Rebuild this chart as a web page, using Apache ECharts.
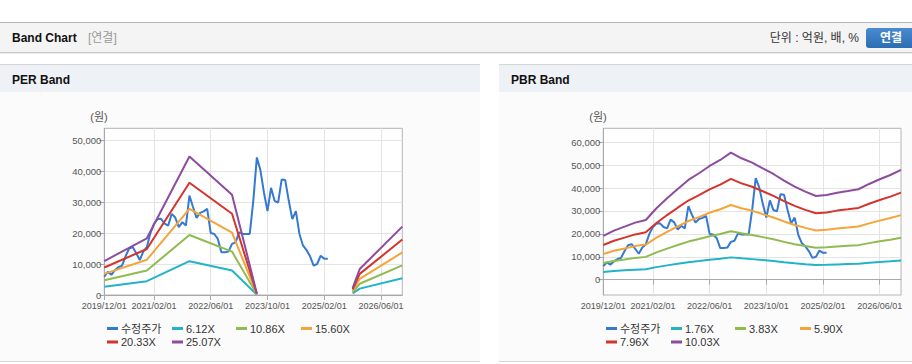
<!DOCTYPE html>
<html><head><meta charset="utf-8">
<script src="https://cdn.jsdelivr.net/npm/echarts@6/dist/echarts.min.js"></script>
<style>html,body{margin:0;padding:0;background:#fff}#c{width:912px;height:364px}</style>
</head><body><div id="c"></div>
<script>
// ---- categories (monthly, 2019/12 .. 2026/12) ----
const startYear = 2019, startMonth = 12, monthCount = 85;
const months = [];
for (let i = 0; i < monthCount; i++) {
  const t = (startMonth - 1) + i;
  const y = startYear + Math.floor(t / 12), m = (t % 12) + 1;
  months.push(y + '/' + String(m).padStart(2, '0') + '/01');
}
const xLabelDates = ['2019/12/01','2021/02/01','2022/06/01','2023/10/01','2025/02/01','2026/06/01'];
const perYTicks = [0, 10000, 20000, 30000, 40000, 50000];
const pbrYTicks = [0, 10000, 20000, 30000, 40000, 50000, 60000];

// ---- adjusted price (수정주가), monthly from 2019/12 ----
const price = [5900,7500,6500,8000,9000,9500,12500,15000,15500,13500,
  11300,14000,15500,20000,23000,24500,24600,23000,22400,26200,
  25000,21900,23500,22400,32100,28400,24900,26500,27000,27800,
  20000,19700,18100,13800,13800,14000,16500,17000,20200,19700,
  19700,19700,30400,44400,40300,33100,27100,34600,30400,29800,
  37300,37100,30400,24500,27100,19700,16000,14500,12500,9500,
  10000,12700,11700,11700];

// ---- PER band ----
const perBandDates = ['2019/12/01','2020/12/01','2021/12/01','2022/12/01','2023/07/01','2023/08/01','2025/10/01','2025/12/01','2026/12/01'];
const per612  = [2674, 4468, 10906, 7895, 122, '-', 539, 2050, 5386];
const per1086 = [4746, 7928, 19353, 14009, 217, '-', 956, 3638, 9557];
const per1560 = [6817, 11388, 27799, 20124, 312, '-', 1373, 5226, 13728];
const per2033 = [8884, 14841, 36228, 26226, 407, '-', 1789, 6811, 17890];
const per2507 = [10956, 18301, 44675, 32340, 501, '-', 2206, 8398, 22062];
const perNames = ['6.12X','10.86X','15.60X','20.33X','25.07X'];

// ---- PBR band (quarterly readings) ----
const pbrBandDates = ['2019/12/01','2020/03/01','2020/06/01','2020/09/01','2020/12/01','2021/03/01','2021/06/01','2021/09/01',
  '2021/12/01','2022/03/01','2022/06/01','2022/09/01','2022/12/01','2023/03/01','2023/06/01','2023/09/01',
  '2023/12/01','2024/03/01','2024/06/01','2024/09/01','2024/12/01','2025/03/01','2025/06/01','2025/09/01',
  '2025/12/01','2026/03/01','2026/06/01','2026/09/01','2026/12/01'];
const pbr176  = [3348,3756,4062,4370,4572,5475,6237,6948,7640,8152,8712,9171,9731,9300,8967,8536,
  8098,7586,7124,6743,6413,6493,6667,6795,6927,7332,7693,8022,8406];
const pbr383  = [7285,8173,8840,9510,9950,11915,13574,15121,16626,17741,18959,19958,21176,20238,19514,18576,
  17622,16507,15504,14673,13957,14129,14508,14788,15075,15956,16741,17457,18292];
const pbr590  = [11222,12591,13617,14650,15328,18355,20910,23293,25612,27329,29205,30745,32621,31176,30061,28615,
  27146,25429,23883,22603,21500,21765,22349,22780,23222,24579,25789,26892,28178];
const pbr796  = [15140,16987,18372,19765,20680,24764,28210,31426,34554,36871,39402,41480,44011,42061,40556,38606,
  36624,34308,32222,30495,29006,29364,30152,30734,31331,33161,34793,36282,38017];
const pbr1003 = [19077,21404,23149,24904,26058,31203,35546,39598,43540,46459,49649,52266,55456,52999,51103,48646,
  46148,43229,40601,38425,36549,37001,37994,38726,39478,41785,43841,45717,47903];
const pbrNames = ['1.76X','3.83X','5.90X','7.96X','10.03X'];

const priceName = '수정주가';
const colors = ['#3479d2','#22b3c8','#8fbb4f','#f5a437','#d4342b','#8d4c9d'];
const FONT = '"Liberation Sans", "Noto Sans CJK KR", sans-serif';

const pair = (dates, vals) => dates.map((d, i) => [d, vals[i]]);
const labelIdx = xLabelDates.map(d => months.indexOf(d));
const showIdx = (i) => labelIdx.indexOf(i) >= 0;

function xAxis(gi) {
  return {
    type: 'category', gridIndex: gi, data: months, boundaryGap: false,
    axisLine: { lineStyle: { color: '#a9a9a9' } },
    axisTick: { show: true, interval: showIdx, length: 5, lineStyle: { color: '#a9a9a9' } },
    axisLabel: { interval: showIdx, color: '#555', fontSize: 9, fontFamily: FONT, margin: 6 },
    splitLine: { show: true, interval: showIdx, lineStyle: { color: '#e4e4e4' } }
  };
}
function yAxis(gi, min, max, ticks) {
  return {
    type: 'value', gridIndex: gi, min: min, max: max,
    axisLine: { show: true, lineStyle: { color: '#a9a9a9' } },
    axisTick: { show: true, length: 5, customValues: ticks, lineStyle: { color: '#a9a9a9' } },
    axisLabel: { customValues: ticks, color: '#555', fontSize: 9.5, fontFamily: FONT, margin: 3,
      formatter: v => v.toLocaleString('en-US') },
    splitLine: { show: true, lineStyle: { color: '#e4e4e4' } }
  };
}
function line(name, data, color, gi, width) {
  return { name: name, type: 'line', xAxisIndex: gi, yAxisIndex: gi, data: data,
    showSymbol: false, symbol: 'none', connectNulls: false, animation: false,
    lineStyle: { color: color, width: width || 2 }, itemStyle: { color: color } };
}

const series = [
  line(priceName, price, colors[0], 0),
  line(perNames[0], pair(perBandDates, per612), colors[1], 0),
  line(perNames[1], pair(perBandDates, per1086), colors[2], 0),
  line(perNames[2], pair(perBandDates, per1560), colors[3], 0),
  line(perNames[3], pair(perBandDates, per2033), colors[4], 0),
  line(perNames[4], pair(perBandDates, per2507), colors[5], 0),
  line(priceName, price, colors[0], 1),
  line(pbrNames[0], pair(pbrBandDates, pbr176), colors[1], 1),
  line(pbrNames[1], pair(pbrBandDates, pbr383), colors[2], 1),
  line(pbrNames[2], pair(pbrBandDates, pbr590), colors[3], 1),
  line(pbrNames[3], pair(pbrBandDates, pbr796), colors[4], 1),
  line(pbrNames[4], pair(pbrBandDates, pbr1003), colors[5], 1)
];

function legendItems(names, x0) {
  const cols = [0, 65, 129, 194];
  const out = [];
  names.forEach((n, i) => {
    const r = Math.floor(i / 4), c = i % 4;
    out.push({ data: [n], left: x0 + cols[c], top: 323 + r * 13.5, icon: 'rect',
      itemWidth: 11, itemHeight: 3, padding: 0, selectedMode: false,
      textStyle: { color: '#333', fontSize: 11, fontFamily: FONT, padding: [0, 0, 0, -2] } });
  });
  return out;
}
const legends = legendItems([priceName].concat(perNames), 107)
  .concat(legendItems([priceName].concat(pbrNames), 606));

const bg = [
  { type: 'rect', shape: { x: 0, y: 22, width: 912, height: 1 }, style: { fill: '#b8b8b8' } },
  { type: 'rect', shape: { x: 0, y: 23, width: 912, height: 29 }, style: { fill: '#f4f4f4' } },
  { type: 'rect', shape: { x: 0, y: 52, width: 912, height: 1 }, style: { fill: '#c6c6c6' } },
  { type: 'rect', shape: { x: 0, y: 53, width: 912, height: 1 }, style: { fill: '#ececec' } },
  { type: 'rect', shape: { x: 0, y: 64, width: 480, height: 1 }, style: { fill: '#d6d6d6' } },
  { type: 'rect', shape: { x: 0, y: 65, width: 480, height: 27 }, style: { fill: '#eef1f6' } },
  { type: 'rect', shape: { x: 0, y: 92, width: 480, height: 269 }, style: { fill: '#fbfbfb' } },
  { type: 'rect', shape: { x: 0, y: 361, width: 480, height: 1 }, style: { fill: '#d6d6d6' } },
  { type: 'rect', shape: { x: 499, y: 64, width: 413, height: 1 }, style: { fill: '#d6d6d6' } },
  { type: 'rect', shape: { x: 499, y: 65, width: 413, height: 27 }, style: { fill: '#eef1f6' } },
  { type: 'rect', shape: { x: 499, y: 92, width: 413, height: 269 }, style: { fill: '#fbfbfb' } },
  { type: 'rect', shape: { x: 499, y: 361, width: 413, height: 1 }, style: { fill: '#d6d6d6' } },
  { type: 'text', x: 12, y: 38, style: { text: 'Band Chart', fill: '#111', font: 'bold 12px ' + FONT, verticalAlign: 'middle' } },
  { type: 'text', x: 88, y: 38, style: { text: '[연결]', fill: '#999', font: '12px ' + FONT, verticalAlign: 'middle' } },
  { type: 'text', x: 859, y: 38, style: { text: '단위 : 억원, 배, %', fill: '#333', font: '12px ' + FONT, align: 'right', verticalAlign: 'middle' } },
  { type: 'rect', shape: { x: 866, y: 28, width: 50, height: 20, r: 3 }, style: { fill: {
      type: 'linear', x: 0, y: 0, x2: 0, y2: 1, colorStops: [{ offset: 0, color: '#4a8ad0' }, { offset: 1, color: '#2c6cb3' }] } } },
  { type: 'text', x: 891, y: 38, style: { text: '연결', fill: '#fff', font: 'bold 12px ' + FONT, align: 'center', verticalAlign: 'middle' } },
  { type: 'text', x: 12, y: 80, style: { text: 'PER Band', fill: '#111', font: 'bold 12px ' + FONT, verticalAlign: 'middle' } },
  { type: 'text', x: 511, y: 80, style: { text: 'PBR Band', fill: '#111', font: 'bold 12px ' + FONT, verticalAlign: 'middle' } },
  { type: 'text', x: 99, y: 117, style: { text: '(원)', fill: '#555', font: '11px ' + FONT, align: 'center', verticalAlign: 'middle' } },
  { type: 'text', x: 598, y: 117, style: { text: '(원)', fill: '#555', font: '11px ' + FONT, align: 'center', verticalAlign: 'middle' } }
].map(e => Object.assign({ z: -10, silent: true }, e));

const chart = echarts.init(document.getElementById('c'), null, { renderer: 'svg' });
chart.setOption({
  animation: false,
  graphic: { elements: bg },
  grid: [
    { left: 104.3, top: 128.3, width: 298, height: 166.7, show: true, backgroundColor: '#fff', borderColor: '#b4b4b4', borderWidth: 1 },
    { left: 603.3, top: 128.3, width: 297.7, height: 166.7, show: true, backgroundColor: '#fff', borderColor: '#b4b4b4', borderWidth: 1 }
  ],
  xAxis: [xAxis(0), xAxis(1)],
  yAxis: [yAxis(0, 0, 53800, perYTicks), yAxis(1, -6700, 66100, pbrYTicks)],
  legend: legends,
  series: series
});
</script></body></html>
